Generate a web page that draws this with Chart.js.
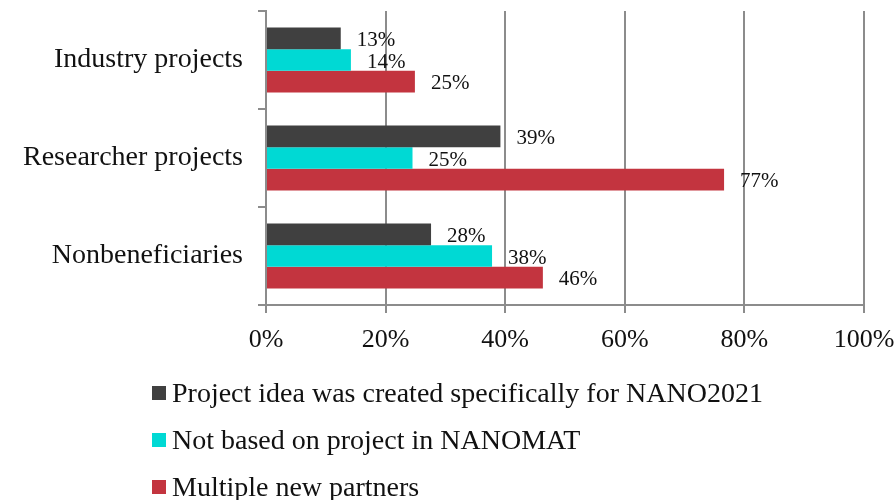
<!DOCTYPE html>
<html>
<head>
<meta charset="utf-8">
<script src="https://cdn.jsdelivr.net/npm/chart.js@4"></script>
<style>
    html, body { margin: 0; padding: 0; background: #fff; }
    #wrap { position: relative; width: 895px; height: 500px; }
    #legend {
        position: absolute; left: 152px; top: 369px;
        font-family: 'Liberation Serif', serif; font-size: 28px; color: #111;
    }
    #legend .item { display: flex; align-items: center; height: 47px; }
    #legend .box { width: 14px; height: 14px; margin-right: 6px; }
</style>
</head>
<body>
<div id="wrap">
    <canvas id="chart" width="895" height="500"></canvas>
    <div id="legend"></div>
</div>
<script>
// categories, top to bottom
const categories = ['Industry projects', 'Researcher projects', 'Nonbeneficiaries'];

// series values (%)
const ideaForNano   = [12.5, 39.2, 27.6];
const notNanomat    = [14.2, 24.5, 37.8];
const newPartners   = [24.9, 76.6, 46.3];

const seriesNames  = [
    'Project idea was created specifically for NANO2021',
    'Not based on project in NANOMAT',
    'Multiple new partners',
];
const seriesColors = ['#404040', '#00D9D4', '#C3343F'];

const xTicks = [0, 20, 40, 60, 80, 100];

const gridColor = '#8C8C8C';
const fontFamily = "'Liberation Serif', serif";

/**
 * Writes the rounded percentage just past the end of each bar.
 */
const barValueLabels = {
    id: 'barValueLabels',
    afterDatasetsDraw(chart) {
        const ctx = chart.ctx;
        ctx.save();
        ctx.font = '21px ' + fontFamily;
        ctx.fillStyle = '#111';
        ctx.textAlign = 'left';
        ctx.textBaseline = 'middle';
        chart.data.datasets.forEach((ds, i) => {
            chart.getDatasetMeta(i).data.forEach((bar, j) => {
                ctx.fillText(Math.round(ds.data[j]) + '%', bar.x + 16, bar.y + 2);
            });
        });
        ctx.restore();
    },
};

const values = [ideaForNano, notNanomat, newPartners];

new Chart(document.getElementById('chart'), {
    type: 'bar',
    data: {
        labels: categories,
        datasets: values.map((data, i) => ({
            label: seriesNames[i],
            data: data,
            backgroundColor: seriesColors[i],
            categoryPercentage: 0.665,
            barPercentage: 1,
        })),
    },
    options: {
        indexAxis: 'y',
        responsive: false,
        animation: false,
        layout: { padding: { top: 11, right: 31, bottom: 135, left: 0 } },
        plugins: {
            legend: { display: false },
            tooltip: { enabled: false },
        },
        scales: {
            x: {
                min: 0,
                max: 100,
                afterBuildTicks: scale => { scale.ticks = xTicks.map(v => ({ value: v })); },
                afterFit: scale => {
                    scale.height = 60;
                    scale.paddingLeft = 0;
                    scale.paddingRight = 0;
                },
                ticks: {
                    callback: v => v + '%',
                    color: '#111',
                    padding: 12,
                    maxRotation: 0,
                    font: { family: fontFamily, size: 26 },
                },
                grid: { color: gridColor, lineWidth: 2, tickLength: 8 },
                border: { color: gridColor, width: 2 },
            },
            y: {
                afterFit: scale => {
                    scale.width = 266;
                    scale.paddingTop = 0;
                    scale.paddingBottom = 0;
                },
                ticks: {
                    color: '#111',
                    padding: 15,
                    font: { family: fontFamily, size: 28 },
                },
                grid: { color: gridColor, lineWidth: 2, tickLength: 8, drawOnChartArea: false, offset: true },
                border: { color: gridColor, width: 2 },
            },
        },
    },
    plugins: [barValueLabels],
});

// legend as plain text below the chart
const legend = document.getElementById('legend');
seriesNames.forEach((name, i) => {
    const item = document.createElement('div');
    item.className = 'item';
    const box = document.createElement('span');
    box.className = 'box';
    box.style.background = seriesColors[i];
    const text = document.createElement('span');
    text.textContent = name;
    item.appendChild(box);
    item.appendChild(text);
    legend.appendChild(item);
});
</script>
</body>
</html>
